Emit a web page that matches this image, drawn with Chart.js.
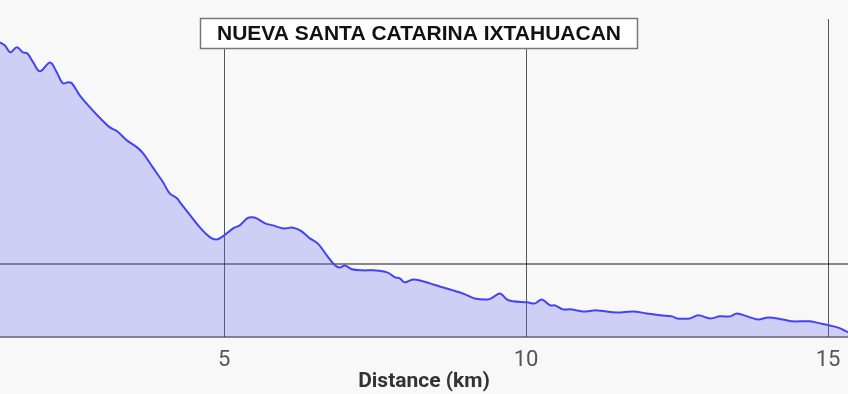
<!DOCTYPE html>
<html>
<head>
<meta charset="utf-8">
<script src="https://cdn.jsdelivr.net/npm/chart.js@4"></script>
<style>
  html, body { margin: 0; padding: 0; background: #f8f8f8; }
  #wrap { width: 848px; height: 394px; }
</style>
</head>
<body>
<div id="wrap"><canvas id="profile"></canvas></div>
<script>
// distance along the route (km)
const distKm = [1.29, 1.37, 1.46, 1.57, 1.67, 1.74, 1.84, 1.95, 2.12, 2.23, 2.33, 2.42, 2.48, 2.61, 2.78, 2.95,
  3.11, 3.23, 3.39, 3.56, 3.66, 3.82, 3.99, 4.10, 4.22, 4.27, 4.44, 4.60, 4.77, 4.88, 4.98, 5.15, 5.26, 5.38,
  5.46, 5.54, 5.68, 5.81, 5.96, 6.04, 6.12, 6.26, 6.42, 6.55, 6.70, 6.84, 6.92, 7.00, 7.12, 7.30, 7.47, 7.70,
  7.83, 7.91, 7.99, 8.13, 8.29, 8.41, 8.57, 8.79, 8.99, 9.15, 9.37, 9.45, 9.57, 9.68, 9.78, 10.02, 10.15,
  10.26, 10.40, 10.48, 10.61, 10.73, 10.94, 11.17, 11.50, 11.77, 12.00, 12.22, 12.42, 12.50, 12.71, 12.85,
  13.05, 13.21, 13.38, 13.49, 13.66, 13.84, 14.01, 14.25, 14.40, 14.70, 14.87, 15.03, 15.20, 15.33];
// elevation (m)
const elevM = [3520, 3500, 3452, 3486, 3452, 3445, 3383, 3322, 3383, 3315, 3240, 3247, 3240, 3157, 3075, 3000,
  2938, 2911, 2849, 2801, 2760, 2664, 2562, 2486, 2452, 2425, 2336, 2253, 2185, 2171, 2192, 2247, 2267, 2315,
  2322, 2315, 2281, 2267, 2247, 2247, 2253, 2233, 2178, 2144, 2062, 1993, 1979, 1993, 1966, 1959, 1959, 1945,
  1911, 1904, 1877, 1897, 1884, 1870, 1849, 1822, 1795, 1767, 1760, 1774, 1801, 1760, 1747, 1740, 1733,
  1760, 1719, 1719, 1692, 1692, 1678, 1685, 1671, 1678, 1664, 1651, 1644, 1630, 1630, 1651,
  1630, 1644, 1644, 1664, 1644, 1623, 1637, 1623, 1610, 1610, 1596, 1582, 1562, 1534];

const xTicks = [5, 10, 15];
const yTicks = [1500, 2000];
const titleText = 'NUEVA SANTA CATARINA IXTAHUACAN';

// cuadro del titulo, dibujado encima de la rejilla
const titleBox = {
  id: 'titleBox',
  afterDraw(chart) {
    const ctx = chart.ctx;
    ctx.save();
    const left = 200.5, top = 18.5, bw = 437, bh = 30;
    ctx.fillStyle = '#ffffff';
    ctx.fillRect(left, top, bw, bh);
    ctx.strokeStyle = '#777';
    ctx.lineWidth = 1.5;
    ctx.strokeRect(left, top, bw, bh);
    ctx.font = 'bold 21px "Liberation Sans", Arial, sans-serif';
    ctx.fillStyle = '#111';
    ctx.textAlign = 'center';
    ctx.textBaseline = 'middle';
    ctx.fillText(titleText, left + bw / 2, top + bh / 2 + 1);
    ctx.restore();
  }
};

new Chart(document.getElementById('profile'), {
  type: 'line',
  data: {
    datasets: [{
      data: distKm.map((d, i) => ({ x: d, y: elevM[i] })),
      borderColor: '#4343f5',
      borderWidth: 2,
      backgroundColor: 'rgba(100, 100, 240, 0.28)',
      fill: 'start',
      pointRadius: 0,
      tension: 0.35
    }]
  },
  options: {
    responsive: true,
    maintainAspectRatio: false,
    animation: false,
    layout: { padding: { top: 19, left: 0, right: 0, bottom: 0 } },
    plugins: { legend: { display: false }, tooltip: { enabled: false } },
    scales: {
      x: {
        type: 'linear',
        min: 1.29,
        max: 15.33,
        afterBuildTicks: (scale) => { scale.ticks = xTicks.map(v => ({ value: v })); },
        // no reservar margen lateral para las etiquetas
        afterFit: (scale) => { scale.paddingLeft = 0; scale.paddingRight = 0; },
        grid: { color: 'rgba(0,0,0,0.65)', lineWidth: 1, drawTicks: false },
        border: { display: false },
        ticks: { color: '#555', padding: 10, font: { family: 'Roboto', size: 22 } },
        title: {
          display: true,
          text: 'Distance (km)',
          color: '#333',
          padding: { top: -15, bottom: 0 },
          font: { family: 'Roboto', size: 21, weight: 'bold' }
        }
      },
      y: {
        min: 1500,
        max: 3680,
        afterBuildTicks: (scale) => { scale.ticks = yTicks.map(v => ({ value: v })); },
        afterFit: (scale) => { scale.width = 0; },
        grid: { color: 'rgba(0,0,0,0.45)', lineWidth: 2, drawTicks: false },
        border: { display: false },
        ticks: { display: false }
      }
    }
  },
  plugins: [titleBox]
});
</script>
</body>
</html>
